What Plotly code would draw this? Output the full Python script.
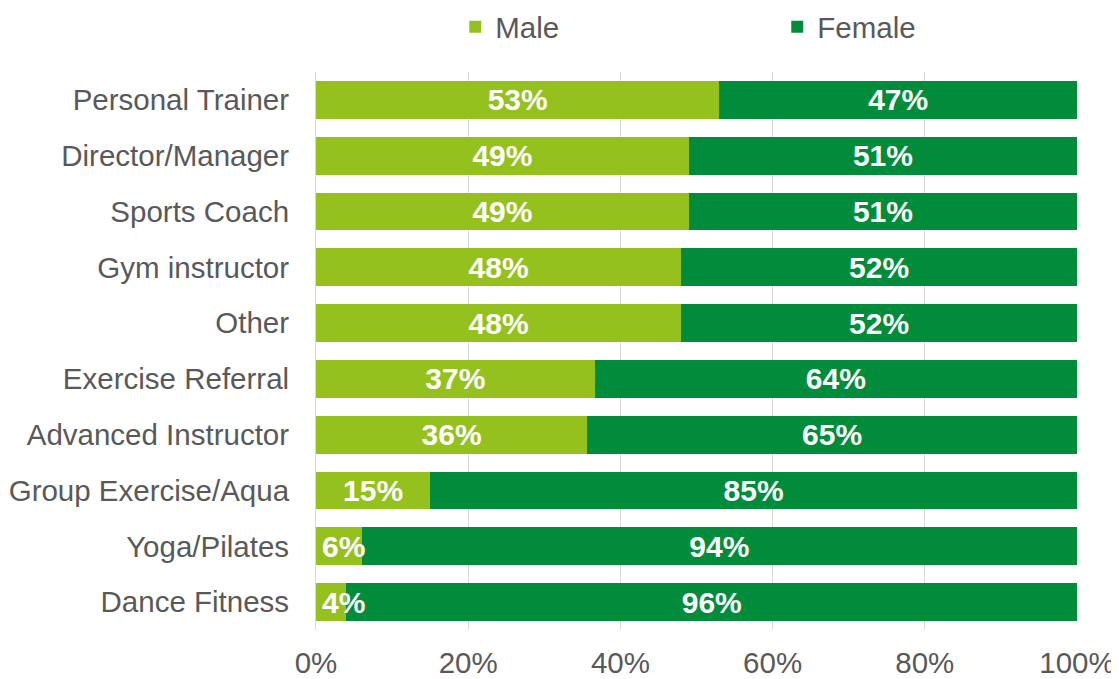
import plotly.graph_objects as go

categories = ["Personal Trainer", "Director/Manager", "Sports Coach", "Gym instructor", "Other",
              "Exercise Referral", "Advanced Instructor", "Group Exercise/Aqua", "Yoga/Pilates", "Dance Fitness"]
male = [53, 49, 49, 48, 48, 37, 36, 15, 6, 4]
female = [47, 51, 51, 52, 52, 64, 65, 85, 94, 96]
x_ticks = [0, 20, 40, 60, 80, 100]
x_tick_labels = ["0%", "20%", "40%", "60%", "80%", "100%"]

MALE_C = "#95C11F"
FEMALE_C = "#008C3A"
FONT = "Liberation Sans, Arial, sans-serif"
SZ = 29.5
LBL = 30
SMALL = 10  # male shares below this get their label drawn above the bars, starting at the axis

male_text = [f"{v}%" if v >= SMALL else "" for v in male]
female_text = [f"{v}%" for v in female]

fig = go.Figure()
fig.add_trace(go.Bar(
    y=categories, x=male, name="Male", orientation="h",
    marker=dict(color=MALE_C, line=dict(width=0)),
    text=male_text, textposition="inside", insidetextanchor="middle",
    constraintext="none", textangle=0, hoverinfo="skip",
    textfont=dict(family=FONT, size=LBL, color="white", weight="bold"),
))
fig.add_trace(go.Bar(
    y=categories, x=female, name="Female", orientation="h",
    marker=dict(color=FEMALE_C, line=dict(width=0)),
    text=female_text, textposition="inside", insidetextanchor="middle",
    constraintext="none", textangle=0, hoverinfo="skip",
    textfont=dict(family=FONT, size=LBL, color="white", weight="bold"),
))

for c, v in zip(categories, male):
    if v < SMALL:
        fig.add_annotation(x=0, y=c, xref="x", yref="y", text=f"{v}%", showarrow=False,
                           xanchor="left", xshift=4,
                           font=dict(family=FONT, size=LBL, color="white", weight="bold"))

fig.update_layout(
    width=1119, height=679,
    barmode="stack", barnorm="percent", bargap=0.32,
    margin=dict(l=308, r=50, t=64, b=57, autoexpand=False),
    paper_bgcolor="white", plot_bgcolor="white",
    font=dict(family=FONT, size=SZ, color="#595959"),
    showlegend=True,
    legend=dict(orientation="h", x=0.183, xanchor="left", y=0.972, yanchor="middle",
                yref="container", entrywidth=277, font=dict(size=SZ, color="#595959"),
                traceorder="normal", itemwidth=30),
)
fig.update_xaxes(range=[0, 100], tickvals=x_ticks, ticktext=x_tick_labels,
                 showgrid=True, gridcolor="#D9D9D9", gridwidth=1, zeroline=False,
                 showline=False, ticks="outside", ticklen=7, tickcolor="white",
                 automargin=False,
                 tickfont=dict(size=SZ, color="#595959"), fixedrange=True)
fig.update_yaxes(categoryorder="array", categoryarray=categories[::-1],
                 showline=True, linecolor="#D9D9D9", linewidth=1,
                 ticks="outside", ticklen=20, tickcolor="white", automargin=False,
                 tickfont=dict(size=SZ, color="#595959"), fixedrange=True)

fig.write_html("out.html")
